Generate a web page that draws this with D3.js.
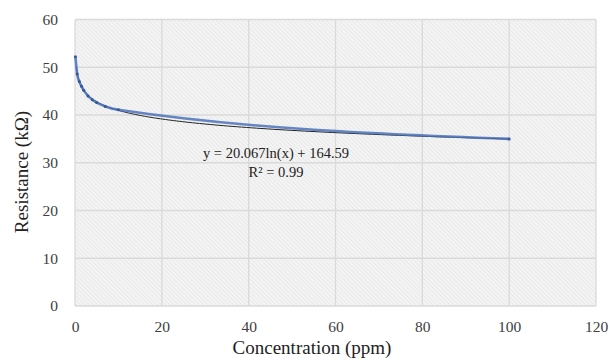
<!DOCTYPE html>
<meta charset="utf-8">
<html>
    <head>
        <title>Resistance vs Concentration</title>
        <script src="https://d3js.org/d3.v7.min.js"></script>
        <style>
            body {
              margin: 0;
              background: #ffffff;
              font-family: "Liberation Serif", "Times New Roman", serif;
            }
            .axis-title {
              font-size: 19px;
              fill: #222;
            }
            .eq {
              font-size: 14.5px;
              fill: #222;
            }
        </style>
    </head>
    <body>
        <div id="chart"></div>
        <script>
            // concentration (ppm) and measured resistance (kOhm)
            var concentration = [0.1, 0.5, 1, 1.5, 2, 3, 4, 5, 7, 10, 100];
            var resistance = [52.2, 48.6, 47.0, 46.0, 45.2, 44.0, 43.2, 42.6, 41.8, 41.1, 35.0];
            var xTicks = [0, 20, 40, 60, 80, 100, 120];
            var yTicks = [0, 10, 20, 30, 40, 50, 60];
            var equationText = "y = 20.067ln(x) + 164.59";
            var r2Text = "R² = 0.99";
            // log trendline as it sits on the picture: y = slope*ln(x) + intercept
            var trendSlope = -2.6;
            var trendIntercept = 46.95;
            var trendRange = [0.3, 100];

            var width = 610;
            var height = 360;
            var margin = {top: 19.5, right: 14, bottom: 54, left: 75};

            var svg = d3.select("#chart")
                        .append("svg")
                        .attr("width", width)
                        .attr("height", height);

            var x = d3.scaleLinear()
                      .domain([0, 120])
                      .range([margin.left, width - margin.right]);
            var y = d3.scaleLinear()
                      .domain([0, 60])
                      .range([height - margin.bottom, margin.top]);

            // hatched plot background
            var defs = svg.append("defs");
            var pat = defs.append("pattern")
                .attr("id", "hatch")
                .attr("width", 3)
                .attr("height", 3)
                .attr("patternUnits", "userSpaceOnUse")
                .attr("patternTransform", "rotate(-45)");
            pat.append("rect").attr("width", 3).attr("height", 3).attr("fill", "#f4f4f4");
            pat.append("line")
                .attr("x1", 0).attr("y1", 0).attr("x2", 0).attr("y2", 3)
                .attr("stroke", "#e2e2e2")
                .attr("stroke-width", 1.2);

            svg.append("rect")
                .attr("x", x(0))
                .attr("y", y(60))
                .attr("width", x(120) - x(0))
                .attr("height", y(0) - y(60))
                .attr("fill", "url(#hatch)");

            // grid
            svg.append("g")
                .selectAll("line")
                .data(yTicks)
                .enter()
                .append("line")
                .attr("x1", x(0)).attr("x2", x(120))
                .attr("y1", function(d) { return y(d); })
                .attr("y2", function(d) { return y(d); })
                .attr("stroke", "#dadada")
                .attr("stroke-width", 1.3);
            svg.append("g")
                .selectAll("line")
                .data(xTicks)
                .enter()
                .append("line")
                .attr("y1", y(0)).attr("y2", y(60))
                .attr("x1", function(d) { return x(d); })
                .attr("x2", function(d) { return x(d); })
                .attr("stroke", "#dadada")
                .attr("stroke-width", 1.3);

            // axes (labels only, no domain lines)
            var xAxis = svg.append("g")
                .attr("transform", "translate(0," + (y(0) + 12) + ")")
                .call(d3.axisBottom(x).tickValues(xTicks).tickSize(0).tickFormat(d3.format("d")));
            xAxis.select(".domain").remove();

            var yAxis = svg.append("g")
                .attr("transform", "translate(" + (x(0) - 14) + ",0)")
                .call(d3.axisLeft(y).tickValues(yTicks).tickSize(0).tickFormat(d3.format("d")));
            yAxis.select(".domain").remove();

            svg.selectAll(".tick text")
                .style("font-family", "'Liberation Serif', 'Times New Roman', serif")
                .style("font-size", "15.5px")
                .style("fill", "#404040");

            var line = d3.line()
                .x(function(d) { return x(d[0]); })
                .y(function(d) { return y(d[1]); });

            // trendline
            var lo = Math.log(trendRange[0]), hi = Math.log(trendRange[1]);
            var trendPts = d3.range(0, 201).map(function(i) {
              var v = Math.exp(lo + (hi - lo) * i / 200);
              return [v, trendSlope * Math.log(v) + trendIntercept];
            });
            svg.append("path")
                .datum(trendPts)
                .attr("fill", "none")
                .attr("stroke", "#222")
                .attr("stroke-width", 1)
                .attr("d", line);

            // data line (smoothed)
            var pts = concentration.map(function(c, i) { return [c, resistance[i]]; });
            var smooth = d3.line()
                .x(function(d) { return x(d[0]); })
                .y(function(d) { return y(d[1]); })
                .curve(d3.curveMonotoneX);
            svg.append("path")
                .datum(pts)
                .attr("fill", "none")
                .attr("stroke", "#4a72b8")
                .attr("stroke-width", 2.6)
                .attr("stroke-opacity", 0.85)
                .attr("d", smooth);

            svg.append("g")
                .selectAll("circle")
                .data(pts)
                .enter()
                .append("circle")
                .attr("cx", function(d) { return x(d[0]); })
                .attr("cy", function(d) { return y(d[1]); })
                .attr("r", 1.5)
                .attr("fill", "#34589a");

            // equation label
            svg.append("text")
                .attr("class", "eq")
                .attr("x", 276)
                .attr("y", 158)
                .attr("text-anchor", "middle")
                .text(equationText);
            svg.append("text")
                .attr("class", "eq")
                .attr("x", 276)
                .attr("y", 177)
                .attr("text-anchor", "middle")
                .text(r2Text);

            // axis titles
            svg.append("text")
                .attr("class", "axis-title")
                .attr("x", 312)
                .attr("y", 354)
                .attr("text-anchor", "middle")
                .text("Concentration (ppm)");
            svg.append("text")
                .attr("class", "axis-title")
                .attr("transform", "translate(28,172) rotate(-90)")
                .attr("text-anchor", "middle")
                .text("Resistance (kΩ)");
        </script>
    </body>
</html>
